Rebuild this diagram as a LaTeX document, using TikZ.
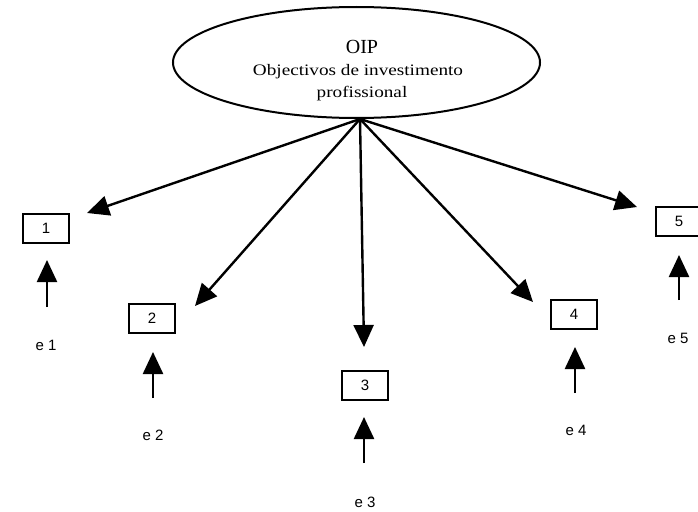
\documentclass[tikz,border=0pt]{standalone}
\usepackage{fontspec}
\setmainfont{Liberation Serif}
\newfontfamily\widefont[FakeStretch=1.2]{Liberation Serif}
\newfontfamily\labfont{Liberation Sans}
\usetikzlibrary{arrows.meta,shapes.geometric}
\tikzset{
  conn/.style={line width=2.4pt, -{Triangle[length=22pt,width=20pt]}},
  box/.style={draw, line width=2pt, minimum width=46pt, minimum height=29pt, inner sep=0pt,
              font=\labfont\fontsize{15}{15}\selectfont},
  elab/.style={inner sep=0pt, font=\labfont\fontsize{15}{15}\selectfont},
  intext/.style={inner sep=0pt, anchor=base}
}
\begin{document}
\begin{tikzpicture}[x=1pt,y=-1pt]
\useasboundingbox (0,0) rectangle (698,511);
% latent variable
\node[draw, ellipse, line width=2pt, minimum width=367pt, minimum height=111pt, inner sep=0pt] (O) at (356.5,62.5) {};
\node[intext, font=\fontsize{20}{20}\selectfont] (Ot1) at (362,53) {OIP};
\node[intext, font=\widefont\fontsize{16}{16}\selectfont] (Ot2) at (358,75) {Objectivos de investimento};
\node[intext, font=\widefont\fontsize{16}{16}\selectfont] (Ot3) at (362,97) {profissional};
\coordinate (hub) at (360,119);
% indicators
\node[box] (b1) at (46,228) {1};
\node[box] (b2) at (152,318) {2};
\node[box] (b3) at (365,385) {3};
\node[box] (b4) at (574,314) {4};
\node[box] (b5) at (679,221) {5};
% arrow tips near the boxes
\coordinate (t1) at (87,213);
\coordinate (t2) at (195,306);
\coordinate (t3) at (364,347);
\coordinate (t4) at (533,302);
\coordinate (t5) at (637,207);
\foreach \i in {1,...,5} \draw[conn] (hub) -- (t\i);
% error terms
\node[elab] (e1) at (46,345) {e 1};
\node[elab] (e2) at (153,435) {e 2};
\node[elab] (e3) at (365,502) {e 3};
\node[elab] (e4) at (576,430) {e 4};
\node[elab] (e5) at (678,338) {e 5};
\coordinate (s1) at (47,307);  \coordinate (u1) at (47,260);
\coordinate (s2) at (153,398); \coordinate (u2) at (153,352);
\coordinate (s3) at (364,463); \coordinate (u3) at (364,417);
\coordinate (s4) at (575,393); \coordinate (u4) at (575,347);
\coordinate (s5) at (679,300); \coordinate (u5) at (679,255);
\foreach \i in {1,...,5} \draw[conn] (s\i) -- (u\i);
\end{tikzpicture}
\end{document}
